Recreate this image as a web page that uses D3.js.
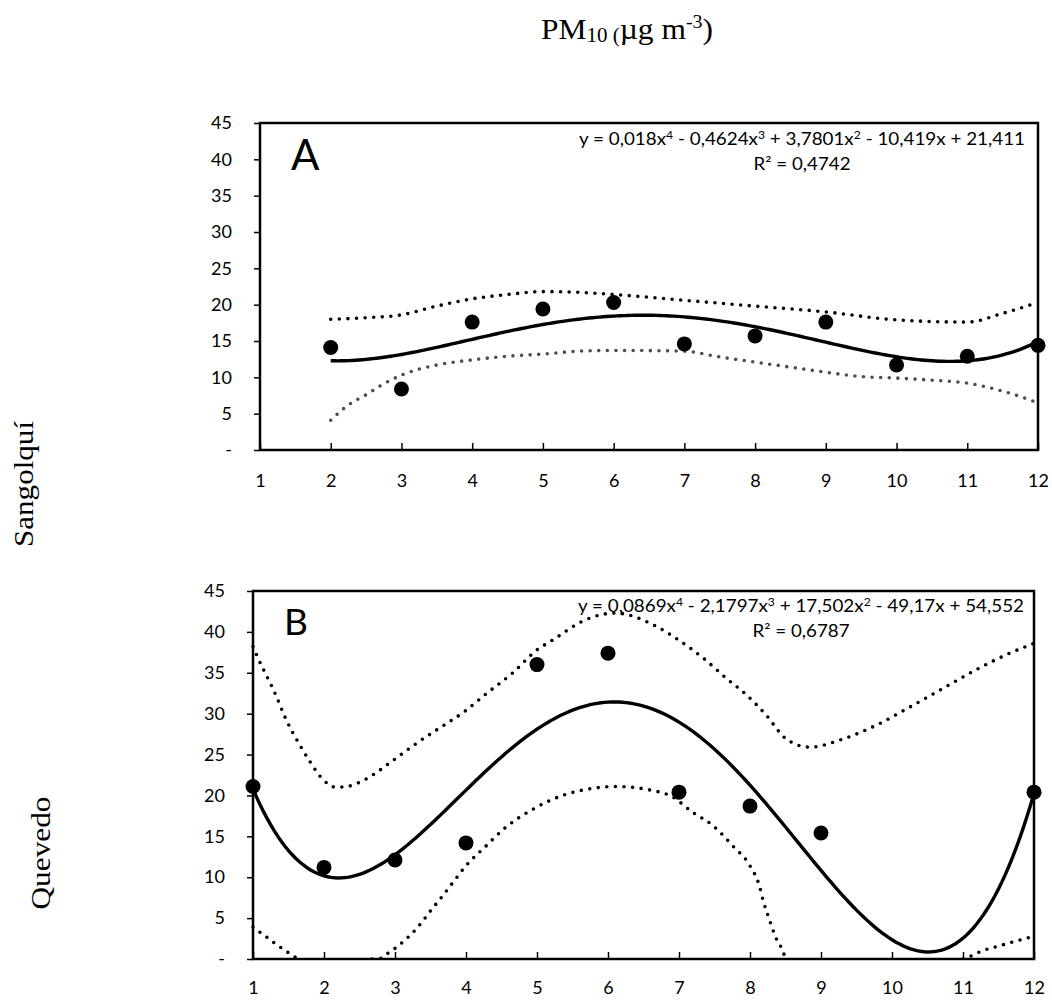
<!doctype html>
<html lang="es">
  <head>
    <meta charset="utf-8">
    <title>PM10 Sangolquí / Quevedo</title>
    <style>
      body { margin: 0; background: #fff; }
      .tick text { font-family: Lato, "Open Sans", sans-serif; font-size: 18px; fill: #000; }
      .serif { font-family: "Liberation Serif", "DejaVu Serif", serif; fill: #000; }
      .eq { font-family: Lato, "Open Sans", sans-serif; font-size: 17px; fill: #000; }
    </style>
  </head>
  <body>
    <script src="https://d3js.org/d3.v7.min.js"></script>
    <script>
      // month numbers on x, PM10 on y
      var monthTicks = [1, 2, 3, 4, 5, 6, 7, 8, 9, 10, 11, 12];
      var yTicks = [0, 5, 10, 15, 20, 25, 30, 35, 40, 45];

      // A - Sangolquí
      var monthsA = [2, 3, 4, 5, 6, 7, 8, 9, 10, 11, 12];
      var pm10A = [14.1, 8.4, 17.6, 19.4, 20.3, 14.6, 15.7, 17.6, 11.7, 12.9, 14.4];
      var trendA = [0.018, -0.4624, 3.7801, -10.419, 21.411];
      var r2A = 0.4742;
      var upperA = [[2, 18.0], [2.5, 18.2], [3, 18.6], [3.5, 19.8], [4, 20.8], [4.5, 21.4], [5, 21.8],
        [5.5, 21.7], [6, 21.4], [7, 20.6], [8, 19.8], [9, 19.0], [10, 17.9], [11, 17.6],
        [11.5, 18.8], [12, 20.3]];
      var lowerA = [[2, 4.1], [2.25, 6.2], [2.5, 7.6], [2.75, 9.1], [3, 10.3], [3.5, 11.7], [4, 12.4],
        [4.5, 12.9], [5, 13.2], [5.5, 13.6], [6, 13.7], [7, 13.6], [7.5, 12.8], [8, 12.1],
        [8.5, 11.4], [9, 10.7], [9.5, 10.1], [10, 9.9], [10.5, 9.6], [11, 9.2], [11.5, 8.1], [12, 6.5]];

      // B - Quevedo
      var monthsB = [1, 2, 3, 4, 5, 6, 7, 8, 9, 12];
      var pm10B = [21.1, 11.2, 12.1, 14.2, 36.0, 37.4, 20.4, 18.7, 15.4, 20.4];
      var trendB = [0.0869, -2.1797, 17.502, -49.17, 54.552];
      var r2B = 0.6787;
      var upperB = [[1, 38.2], [1.06, 37.0], [1.32, 32.3], [1.46, 29.4], [1.65, 26.3], [1.79, 24.3],
        [1.98, 22.0], [2.17, 21.0], [2.33, 21.1], [2.59, 22.0], [2.96, 24.2], [3.29, 26.3],
        [3.62, 28.2], [4.0, 30.4], [4.28, 32.4], [4.66, 35.0], [5.0, 37.8], [5.22, 39.0],
        [5.69, 41.5], [6.1, 42.3], [6.63, 40.9], [6.96, 39.2], [7.34, 36.8], [7.67, 34.3],
        [7.95, 32.3], [8.23, 29.8], [8.51, 26.9], [8.84, 25.9], [9.31, 26.9], [9.78, 28.6],
        [10.25, 30.8], [10.72, 33.1], [11.19, 35.4], [11.66, 37.4], [12, 38.6]];
      // null = band below the axis (not drawn)
      var lowerB = [[1, 3.9], [1.11, 3.2], [1.22, 2.5], [1.31, 1.9], [1.41, 1.3], [1.51, 0.7], [1.62, 0.1], null,
        [2.68, 0], [2.8, 0.1], [2.9, 0.7], [3.0, 1.3], [3.1, 2.0], [3.19, 2.7], [3.28, 3.5],
        [3.37, 4.4], [3.51, 6.0], [3.67, 7.7], [3.82, 9.4], [4.0, 11.4], [4.28, 13.8], [4.56, 16.1],
        [4.94, 18.3], [5.36, 20.0], [5.74, 20.8], [6.1, 21.1], [6.63, 20.6], [6.87, 20.0],
        [7.2, 17.9], [7.48, 16.3], [7.76, 13.8], [8.0, 11.4], [8.13, 9.0], [8.19, 7.0],
        [8.27, 4.9], [8.36, 2.7], [8.47, 0.8], [8.5, 0], null,
        [11.0, 0], [11.12, 0.4], [11.24, 0.9], [11.47, 1.5], [11.71, 2.1], [12, 2.8]];

      var svg = d3.select('body').append('svg')
          .attr('width', 1052)
          .attr('height', 1000);

      function poly(c, x) {
        return c.reduce(function(acc, k) { return acc * x + k; }, 0);
      }
      function fmt(v) { return String(Math.abs(v)).replace('.', ','); }

      function drawPanel(p) {
        var x = d3.scaleLinear().domain([1, 12]).range([p.left, p.right]);
        var y = d3.scaleLinear().domain([0, 45]).range([p.bottom, p.top]);
        var g = svg.append('g');

        g.append('g')
            .attr('transform', 'translate(' + p.left + ',0)')
            .call(d3.axisLeft(y).tickValues(yTicks).tickSize(6).tickPadding(22)
              .tickFormat(function(d) { return d === 0 ? '-' : d; }))
            .call(function(a) { a.select('.domain').remove(); })
            .selectAll('line').attr('stroke-width', 1.5);

        g.append('g')
            .attr('transform', 'translate(0,' + p.bottom + ')')
            .call(d3.axisBottom(x).tickValues(monthTicks).tickSizeInner(-7).tickSizeOuter(0).tickPadding(p.xPad))
            .call(function(a) { a.select('.domain').remove(); })
            .selectAll('line').attr('stroke-width', 1.5);

        g.append('rect')
            .attr('x', p.left).attr('y', p.top)
            .attr('width', p.right - p.left).attr('height', p.bottom - p.top)
            .attr('fill', 'none').attr('stroke', '#000').attr('stroke-width', 2.5);

        var clipId = 'clip' + p.name;
        svg.append('clipPath').attr('id', clipId).append('rect')
            .attr('x', p.left - 3).attr('y', p.top)
            .attr('width', p.right - p.left + 6).attr('height', p.bottom - p.top);

        var band = d3.line()
            .defined(function(d) { return d !== null; })
            .x(function(d) { return x(d[0]); })
            .y(function(d) { return y(d[1]); })
            .curve(d3.curveMonotoneX);

        g.append('path').datum(p.upper)
            .attr('d', band).attr('fill', 'none').attr('stroke', '#000')
            .attr('stroke-width', 3.6).attr('stroke-linecap', 'round')
            .attr('stroke-dasharray', '0 8.6').attr('clip-path', 'url(#' + clipId + ')');
        g.append('path').datum(p.lower)
            .attr('d', band).attr('fill', 'none').attr('stroke', p.lowerColor)
            .attr('stroke-width', 3.6).attr('stroke-linecap', 'round')
            .attr('stroke-dasharray', '0 8.6').attr('clip-path', 'url(#' + clipId + ')');

        // polynomial trend from the printed equation
        var xs = d3.range(p.months[0], 12.0001, 0.05);
        g.append('path').datum(xs)
            .attr('d', d3.line()
              .x(function(d) { return x(d); })
              .y(function(d) { return y(poly(p.trend, d)); }))
            .attr('fill', 'none').attr('stroke', '#000').attr('stroke-width', 3.4);

        g.selectAll('.dot')
          .data(p.months)
          .enter().append('circle')
            .attr('r', 7.5)
            .attr('cx', function(d) { return x(d); })
            .attr('cy', function(d, i) { return y(p.values[i]); })
            .attr('fill', '#000');

        // equation
        var c = p.trend;
        var parts = [{ t: 'y = ' + fmt(c[0]) + 'x' }, { t: '4', sup: true }];
        for (var i = 1; i < c.length; i++) {
          var deg = c.length - 1 - i;
          parts.push({ t: (c[i] < 0 ? ' - ' : ' + ') + fmt(c[i]) + (deg > 0 ? 'x' : '') });
          if (deg > 1) parts.push({ t: String(deg), sup: true });
        }
        var eq = g.append('text').attr('class', 'eq')
            .attr('x', p.eqX).attr('y', p.eqY)
            .attr('text-anchor', 'middle')
            .attr('textLength', 446).attr('lengthAdjust', 'spacingAndGlyphs');
        var up = false;
        parts.forEach(function(pt) {
          var ts = eq.append('tspan').text(pt.t);
          if (pt.sup && !up) { ts.attr('dy', -6).style('font-size', '11px'); up = true; }
          else if (!pt.sup && up) { ts.attr('dy', 6); up = false; }
        });
        g.append('text').attr('class', 'eq')
            .attr('x', p.eqX).attr('y', p.eqY + 25)
            .attr('text-anchor', 'middle')
            .attr('textLength', 97).attr('lengthAdjust', 'spacingAndGlyphs')
            .text('R² = ' + fmt(p.r2));

        g.append('text')
            .attr('x', p.left + 31).attr('y', p.letterY)
            .style('font-family', 'Lato, "Open Sans", sans-serif')
            .style('font-size', p.letterSize + 'px')
            .text(p.name);

        g.append('text').attr('class', 'serif')
            .attr('transform', 'translate(' + p.siteX + ',' + p.siteY + ') rotate(-90)')
            .attr('text-anchor', 'middle')
            .attr('textLength', p.siteLen).attr('lengthAdjust', 'spacingAndGlyphs')
            .style('font-size', '28px')
            .text(p.site);
      }

      drawPanel({
        name: 'A', site: 'Sangolquí', siteX: 33, siteY: 484, siteLen: 126,
        left: 260, right: 1038, top: 123, bottom: 450, xPad: 24,
        months: monthsA, values: pm10A, trend: trendA, r2: r2A,
        upper: upperA, lower: lowerA, lowerColor: '#4d4d4d',
        eqX: 802, eqY: 145, letterY: 170, letterSize: 42
      });

      drawPanel({
        name: 'B', site: 'Quevedo', siteX: 50, siteY: 853, siteLen: 113,
        left: 253, right: 1034, top: 591, bottom: 959, xPad: 22,
        months: monthsB, values: pm10B, trend: trendB, r2: r2B,
        upper: upperB, lower: lowerB, lowerColor: '#000',
        eqX: 801, eqY: 612, letterY: 635, letterSize: 37
      });

      // title PM10 (µg m-3)
      var title = svg.append('text').attr('class', 'serif')
          .attr('x', 541).attr('y', 39)
          .attr('textLength', 172).attr('lengthAdjust', 'spacingAndGlyphs')
          .style('font-size', '30px');
      title.append('tspan').text('PM');
      title.append('tspan').attr('dy', 3).style('font-size', '20px').text('10 (');
      title.append('tspan').attr('dy', -3).text('µg m');
      title.append('tspan').attr('dy', -11).style('font-size', '19px').text('-3');
      title.append('tspan').attr('dy', 11).text(')');
    </script>
  </body>
</html>
